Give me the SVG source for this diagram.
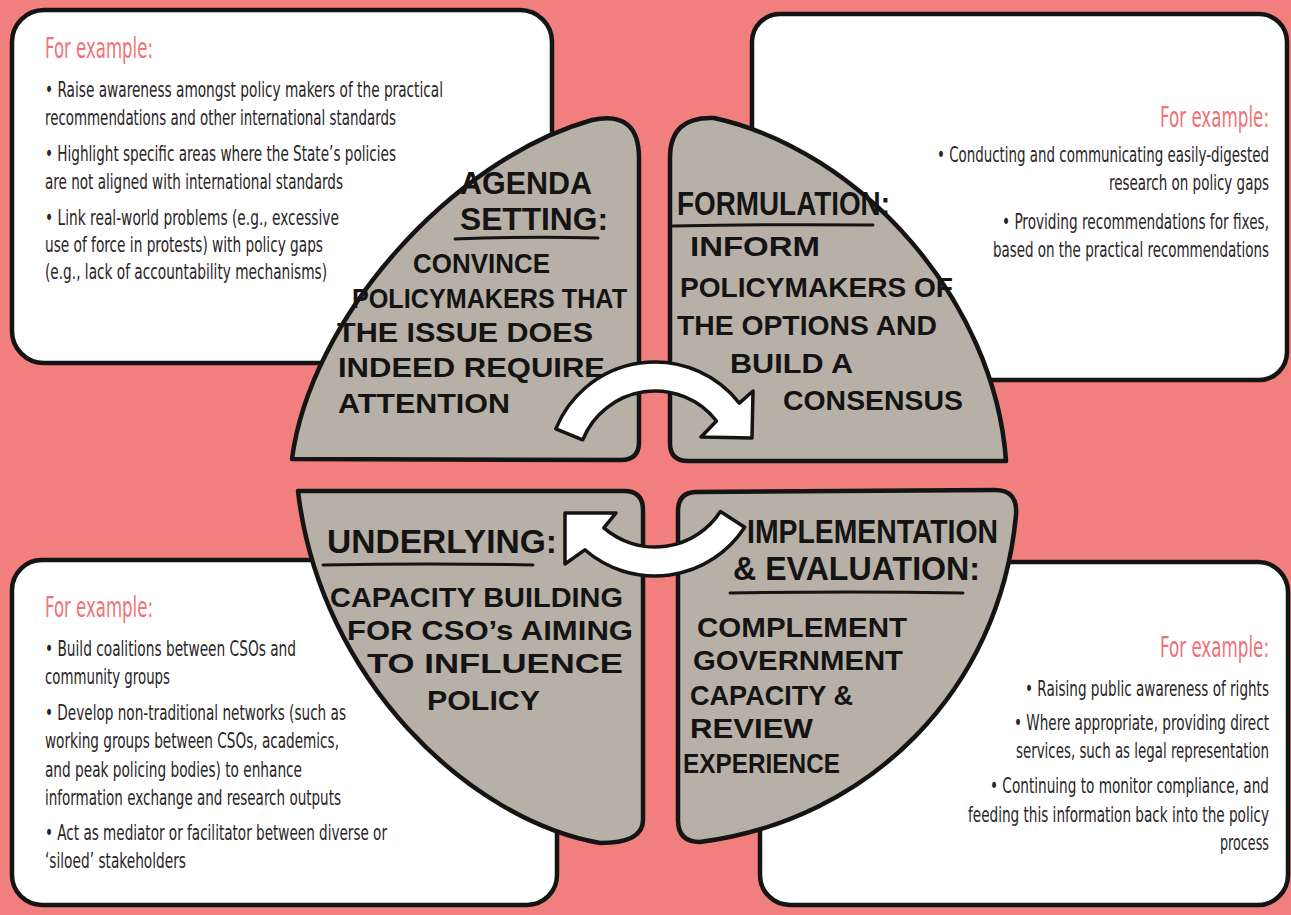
<svg xmlns="http://www.w3.org/2000/svg" width="1291" height="915" viewBox="0 0 1291 915">
<defs>
<style>
.bg{fill:#F07F7E}
.box{fill:#fff;stroke:#141414;stroke-width:4.5;stroke-linejoin:round}
.quad{fill:#B7B0A7;stroke:#141414;stroke-width:4.5;stroke-linejoin:round}
.arrow{fill:#fff;stroke:#141414;stroke-width:3.5;stroke-linejoin:round}
.rule{stroke:#141414;stroke-width:3;stroke-linecap:round;fill:none}
.hand{font-family:"Liberation Sans","Open Sans",sans-serif;font-weight:700;fill:#141414}
.t{font-size:33px}
.ts{font-size:32px}
.b{font-size:28px}
.note{font-family:"Liberation Sans Narrow","DejaVu Sans Condensed","Liberation Sans",sans-serif;font-size:22px;fill:#2a2527}
.lead{font-family:"Liberation Sans Narrow","DejaVu Sans Condensed","Liberation Sans",sans-serif;font-size:28px;fill:#EF7276}
</style>
</defs>

<rect class="bg" x="0" y="0" width="1291" height="915"/>

<!-- example boxes: body copy is set in a condensed cut by squeezing the x axis -->
<g id="examples-agenda">
  <rect class="box" x="12" y="10" width="540" height="353" rx="32"/>
  <g class="lead" transform="scale(0.66,1)">
    <text x="68.2" y="58" textLength="163.6" lengthAdjust="spacingAndGlyphs">For example:</text>
  </g>
  <g class="note" transform="scale(0.68,1)">
    <text x="66.18" y="97" textLength="585.29" lengthAdjust="spacingAndGlyphs">• Raise awareness amongst policy makers of the practical</text>
    <text x="66.18" y="125" textLength="516.18" lengthAdjust="spacingAndGlyphs">recommendations and other international standards</text>
    <text x="66.18" y="161" textLength="516.18" lengthAdjust="spacingAndGlyphs">• Highlight specific areas where the State’s policies</text>
    <text x="66.18" y="189" textLength="438.24" lengthAdjust="spacingAndGlyphs">are not aligned with international standards</text>
    <text x="66.18" y="225" textLength="432.35" lengthAdjust="spacingAndGlyphs">• Link real-world problems (e.g., excessive</text>
    <text x="66.18" y="252" textLength="408.82" lengthAdjust="spacingAndGlyphs">use of force in protests) with policy gaps</text>
    <text x="66.18" y="279" textLength="414.71" lengthAdjust="spacingAndGlyphs">(e.g., lack of accountability mechanisms)</text>
  </g>
</g>

<g id="examples-formulation">
  <rect class="box" x="752" y="14" width="535" height="366" rx="28"/>
  <g class="lead" transform="scale(0.66,1)">
    <text x="1757.6" y="127" textLength="165.2" lengthAdjust="spacingAndGlyphs">For example:</text>
  </g>
  <g class="note" transform="scale(0.68,1)">
    <text x="1377.94" y="162" textLength="488.24" lengthAdjust="spacingAndGlyphs">• Conducting and communicating easily-digested</text>
    <text x="1630.88" y="190" textLength="235.29" lengthAdjust="spacingAndGlyphs">research on policy gaps</text>
    <text x="1473.53" y="229" textLength="392.65" lengthAdjust="spacingAndGlyphs">• Providing recommendations for fixes,</text>
    <text x="1460.29" y="257" textLength="405.88" lengthAdjust="spacingAndGlyphs">based on the practical recommendations</text>
  </g>
</g>

<g id="examples-underlying">
  <rect class="box" x="12" y="560" width="545" height="345" rx="30"/>
  <g class="lead" transform="scale(0.66,1)">
    <text x="68.2" y="617" textLength="163.6" lengthAdjust="spacingAndGlyphs">For example:</text>
  </g>
  <g class="note" transform="scale(0.68,1)">
    <text x="66.18" y="656" textLength="369.12" lengthAdjust="spacingAndGlyphs">• Build coalitions between CSOs and</text>
    <text x="66.18" y="684" textLength="183.82" lengthAdjust="spacingAndGlyphs">community groups</text>
    <text x="66.18" y="720" textLength="442.65" lengthAdjust="spacingAndGlyphs">• Develop non-traditional networks (such as</text>
    <text x="66.18" y="748" textLength="432.35" lengthAdjust="spacingAndGlyphs">working groups between CSOs, academics,</text>
    <text x="66.18" y="777" textLength="377.94" lengthAdjust="spacingAndGlyphs">and peak policing bodies) to enhance</text>
    <text x="66.18" y="805" textLength="435.29" lengthAdjust="spacingAndGlyphs">information exchange and research outputs</text>
    <text x="66.18" y="840" textLength="502.94" lengthAdjust="spacingAndGlyphs">• Act as mediator or facilitator between diverse or</text>
    <text x="66.18" y="868" textLength="207.35" lengthAdjust="spacingAndGlyphs">‘siloed’ stakeholders</text>
  </g>
</g>

<g id="examples-implementation">
  <rect class="box" x="760" y="562" width="528" height="343" rx="30"/>
  <g class="lead" transform="scale(0.66,1)">
    <text x="1757.6" y="657" textLength="165.2" lengthAdjust="spacingAndGlyphs">For example:</text>
  </g>
  <g class="note" transform="scale(0.68,1)">
    <text x="1507.35" y="696" textLength="358.82" lengthAdjust="spacingAndGlyphs">• Raising public awareness of rights</text>
    <text x="1491.18" y="730" textLength="375" lengthAdjust="spacingAndGlyphs">• Where appropriate, providing direct</text>
    <text x="1494.12" y="758" textLength="372.06" lengthAdjust="spacingAndGlyphs">services, such as legal representation</text>
    <text x="1455.88" y="793" textLength="410.29" lengthAdjust="spacingAndGlyphs">• Continuing to monitor compliance, and</text>
    <text x="1423.53" y="822" textLength="442.65" lengthAdjust="spacingAndGlyphs">feeding this information back into the policy</text>
    <text x="1794.12" y="850" textLength="72.06" lengthAdjust="spacingAndGlyphs">process</text>
  </g>
</g>

<!-- policy cycle quadrants -->
<g id="agenda-setting">
  <path class="quad" d="M292,459 C310,320 450,160 592,120 Q639,110 639,158 L639,442 Q639,460 621,460 Z"/>
  <g class="hand">
    <text class="ts" x="460" y="194" textLength="132" lengthAdjust="spacingAndGlyphs">AGENDA</text>
    <text class="ts" x="460" y="230" textLength="148" lengthAdjust="spacingAndGlyphs">SETTING:</text>
    <text class="b" x="413" y="273" textLength="137" lengthAdjust="spacingAndGlyphs">CONVINCE</text>
    <text class="b" x="352" y="308" textLength="275" lengthAdjust="spacingAndGlyphs">POLICYMAKERS THAT</text>
    <text class="b" x="337" y="342" textLength="256" lengthAdjust="spacingAndGlyphs">THE ISSUE DOES</text>
    <text class="b" x="338" y="377" textLength="267" lengthAdjust="spacingAndGlyphs">INDEED REQUIRE</text>
    <text class="b" x="338" y="413" textLength="172" lengthAdjust="spacingAndGlyphs">ATTENTION</text>
  </g>
  <path class="rule" d="M455,239 Q530,236 598,238"/>
</g>

<g id="formulation">
  <path class="quad" d="M670,158 Q670,116 714,118 C860,150 995,300 1006,461 L688,461 Q670,461 670,443 Z"/>
  <g class="hand">
    <text class="t" x="677" y="215" textLength="213" lengthAdjust="spacingAndGlyphs">FORMULATION:</text>
    <text class="b" x="690" y="256" textLength="130" lengthAdjust="spacingAndGlyphs">INFORM</text>
    <text class="b" x="680" y="297" textLength="273" lengthAdjust="spacingAndGlyphs">POLICYMAKERS OF</text>
    <text class="b" x="677" y="335" textLength="260" lengthAdjust="spacingAndGlyphs">THE OPTIONS AND</text>
    <text class="b" x="730" y="373" textLength="123" lengthAdjust="spacingAndGlyphs">BUILD A</text>
    <text class="b" x="783" y="410" textLength="180" lengthAdjust="spacingAndGlyphs">CONSENSUS</text>
  </g>
  <path class="rule" d="M673,226 Q770,224 873,225"/>
</g>

<g id="underlying">
  <path class="quad" d="M298,491 L624,491 Q643,491 643,510 L643,820 Q643,843 600,843 C470,820 320,680 298,491 Z"/>
  <g class="hand">
    <text class="t" x="327" y="553" textLength="230" lengthAdjust="spacingAndGlyphs">UNDERLYING:</text>
    <text class="b" x="330" y="607" textLength="293" lengthAdjust="spacingAndGlyphs">CAPACITY BUILDING</text>
    <text class="b" x="347" y="640" textLength="286" lengthAdjust="spacingAndGlyphs">FOR CSO’s AIMING</text>
    <text class="b" x="367" y="673" textLength="256" lengthAdjust="spacingAndGlyphs">TO INFLUENCE</text>
    <text class="b" x="427" y="710" textLength="113" lengthAdjust="spacingAndGlyphs">POLICY</text>
  </g>
  <path class="rule" d="M323,565 Q430,563 533,565"/>
</g>

<g id="implementation-evaluation">
  <path class="quad" d="M697,492 L995,490 Q1018,490 1016,515 C1000,690 870,820 700,842 Q678,842 678,820 L678,511 Q678,492 697,492 Z"/>
  <g class="hand">
    <text class="t" x="747" y="543" textLength="251" lengthAdjust="spacingAndGlyphs">IMPLEMENTATION</text>
    <text class="t" x="733" y="580" textLength="247" lengthAdjust="spacingAndGlyphs">&amp; EVALUATION:</text>
    <text class="b" x="697" y="637" textLength="210" lengthAdjust="spacingAndGlyphs">COMPLEMENT</text>
    <text class="b" x="693" y="670" textLength="210" lengthAdjust="spacingAndGlyphs">GOVERNMENT</text>
    <text class="b" x="690" y="705" textLength="163" lengthAdjust="spacingAndGlyphs">CAPACITY &amp;</text>
    <text class="b" x="690" y="738" textLength="123" lengthAdjust="spacingAndGlyphs">REVIEW</text>
    <text class="b" x="683" y="773" textLength="157" lengthAdjust="spacingAndGlyphs">EXPERIENCE</text>
  </g>
  <path class="rule" d="M730,593 Q850,591 963,593"/>
</g>

<!-- cycle arrows -->
<g id="connectors">
  <path class="arrow" d="M555.8,428.9 A107,107 0 0 1 739.3,403.1 L753,391 L752,438 L701,437 L716.5,421 A78,78 0 0 0 582.7,439.8 Z"/>
  <path class="arrow" d="M744.7,527.3 A107,107 0 0 1 584.8,549.8 L565,564 L565,513 L616,513 L603.8,527.9 A78,78 0 0 0 720.4,511.5 Z"/>
</g>
</svg>
